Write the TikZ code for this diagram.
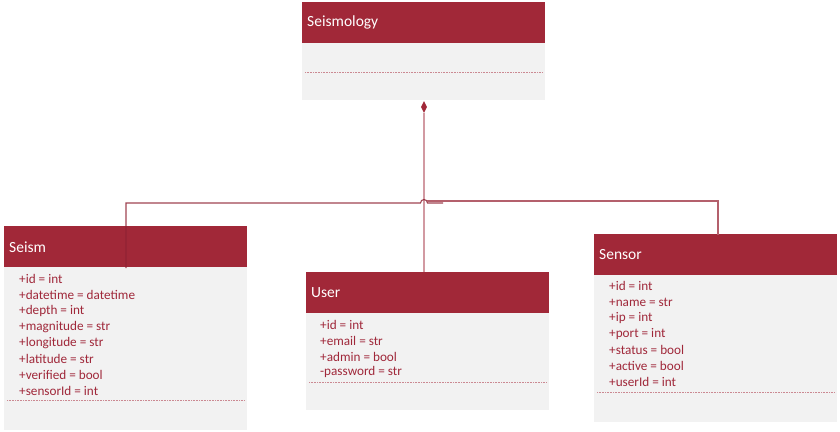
\documentclass[tikz,border=0pt]{standalone}
\usepackage{fontspec}
\setmainfont{Carlito}
\usetikzlibrary{shapes.geometric}
\definecolor{hdr}{HTML}{A12838}
\definecolor{bodyc}{HTML}{F2F2F2}
\definecolor{attr}{HTML}{A0283A}
\definecolor{conn}{HTML}{D29AA2}
\definecolor{dark}{HTML}{8E2233}
\definecolor{mid}{HTML}{B4606C}
\begin{document}
\begin{tikzpicture}[x=1pt,y=-1pt,
 hdrbox/.style={fill=hdr, draw=none, minimum width=243pt, minimum height=41pt, inner sep=0, anchor=north west},
 bodybox/.style={fill=bodyc, draw=none, minimum width=243pt, anchor=north west, inner sep=0},
 titletext/.style={anchor=west, text=white, font=\fontsize{15.5}{18}\selectfont, inner sep=0},
 attrtext/.style={anchor=west, text=attr, font=\fontsize{13.2}{16}\selectfont, inner sep=0},
 sepline/.style={draw=hdr!55, densely dotted, line width=0.6pt}]
\useasboundingbox (0,0) rectangle (840,431);
% Seismology
\node[hdrbox] (smH) at (302,2) {};
\node[bodybox, minimum height=57pt] (smB) at (302,43) {};
\node[titletext] (smT) at (307,22) {Seismology};
\draw[sepline] (305,72) -- (543,72);
% Seism
\node[hdrbox] (seH) at (4,226) {};
\node[bodybox, minimum height=163pt] (seB) at (4,267) {};
\node[titletext] (seT) at (9,247) {Seism};
\foreach \t [count=\i] in {+id = int,+datetime = datetime,+depth = int,+magnitude = str,+longitude = str,+latitude = str,+verified = bool,+sensorId = int}
  \node[attrtext] (seA\i) at (19,263+16*\i) {\t};
\draw[sepline] (7,400) -- (244,400);
% User
\node[hdrbox] (usH) at (306,272) {};
\node[bodybox, minimum height=97pt] (usB) at (306,313) {};
\node[titletext] (usT) at (311,293) {User};
\foreach \t [count=\i] in {+id = int,+email = str,+admin = bool,-password = str}
  \node[attrtext] (usA\i) at (320,309.5+15.7*\i) {\t};
\draw[sepline] (309,382) -- (546,382);
% Sensor
\node[hdrbox] (snH) at (594,234) {};
\node[bodybox, minimum height=147pt] (snB) at (594,275) {};
\node[titletext] (snT) at (599,255) {Sensor};
\foreach \t [count=\i] in {+id = int,+name = str,+ip = int,+port = int,+status = bool,+active = bool,+userId = int}
  \node[attrtext] (snA\i) at (609,270+16*\i) {\t};
\draw[sepline] (597,392) -- (834,392);
% connectors
\node[diamond, fill=hdr, inner sep=0, minimum width=6pt, minimum height=12pt] (dia) at (424,107) {};
\draw[conn, line width=1.4pt] (dia.south) -- (dia.south |- usH.north);
\coordinate (seTop) at (126,268);
\coordinate (seCorner) at (126,203);
\coordinate (jumpL) at (420.5,203);
\coordinate (jumpR) at (427.5,203);
\coordinate (seEnd) at (443,203);
\draw[dark, line width=1.1pt, opacity=0.85] (seTop) -- (seCorner) -- (jumpL) arc[start angle=180, end angle=0, radius=3.5pt] -- (seEnd);
\coordinate (snTop) at (718,235);
\coordinate (snCorner) at (718,201);
\coordinate (snEnd) at (427,201);
\draw[mid, line width=1.1pt] (snTop) -- (snCorner) -- (snEnd);
\end{tikzpicture}
\end{document}
